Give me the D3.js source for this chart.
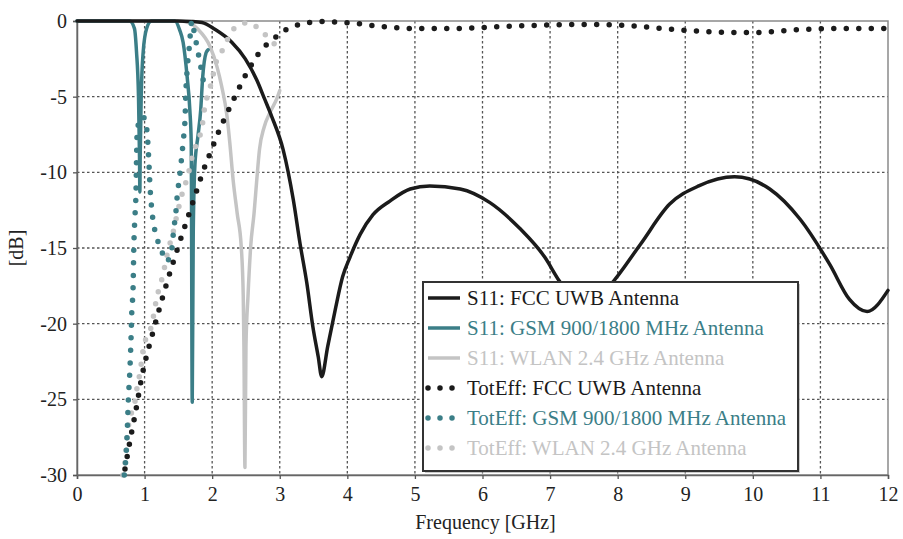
<!DOCTYPE html>
<html>
<head>
<meta charset="utf-8">
<script src="https://cdn.jsdelivr.net/npm/d3@7"></script>
<style>
  body { margin: 0; background: #fff; }
</style>
</head>
<body>
<div id="chart"></div>
<script>
// S11: FCC UWB Antenna (solid black)
const s11UwbF = [0, 1.0, 1.48, 1.7, 1.85, 2.04, 2.29, 2.49, 2.66, 2.78, 2.88, 3.05, 3.2, 3.3, 3.4, 3.49, 3.57, 3.62, 3.71, 3.82, 3.93, 4.04, 4.19, 4.38, 4.63, 4.93, 5.22, 5.67, 6.11, 6.55, 6.92, 7.14, 7.5, 7.9, 8.33, 8.77, 9.2, 9.73, 10.25, 10.7, 11.14, 11.43, 11.69, 12];
const s11UwbDb = [0, 0, 0, -0.03, -0.1, -0.55, -1.4, -2.5, -3.9, -5.2, -6.3, -8.5, -11.8, -14.7, -17.3, -20.2, -22.2, -23.5, -21.5, -19.1, -16.9, -15.6, -14.1, -12.8, -11.9, -11.1, -10.9, -11.1, -12.0, -13.7, -15.6, -17.2, -19, -17.4, -14.8, -12.1, -10.9, -10.3, -11.1, -13.1, -16.1, -18.4, -19.2, -17.8];

// S11: GSM 900/1800 MHz Antenna (solid teal)
const s11GsmF = [0, 0.78, 0.85, 0.88, 0.91, 0.925, 0.93, 0.935, 0.95, 0.98, 1.03, 1.1, 1.45, 1.52, 1.57, 1.63, 1.67, 1.69, 1.705, 1.72, 1.745, 1.79, 1.83, 1.86, 1.91, 1.94];
const s11GsmDb = [0, 0, -0.5, -2, -5, -9, -11.3, -9, -5, -2, -0.5, 0, 0, -0.6, -1.4, -3.7, -5.9, -8, -25.2, -14, -9.5, -7.6, -5.9, -3.7, -2.1, -1.9];

// S11: WLAN 2.4 GHz Antenna (solid light grey)
const s11WlanF = [0, 1.5, 1.65, 1.79, 1.97, 2.07, 2.14, 2.22, 2.26, 2.31, 2.37, 2.43, 2.46, 2.47, 2.485, 2.5, 2.53, 2.57, 2.62, 2.66, 2.7, 2.77, 2.86, 2.96, 3.0];
const s11WlanDb = [0, 0, -0.1, -0.55, -1.7, -3.0, -4.3, -6.3, -8, -10.5, -12.7, -14.9, -18.2, -21.5, -29.5, -21.5, -18.2, -14.9, -12.7, -10.5, -8.5, -7.0, -6.0, -5.1, -4.6];

// TotEff: FCC UWB Antenna (dotted black)
const totUwbF = [0.71, 0.79, 0.86, 0.96, 1.14, 1.35, 1.52, 1.75, 1.86, 2.0, 2.07, 2.22, 2.38, 2.54, 2.75, 2.88, 3.03, 3.2, 3.34, 3.55, 3.74, 4.1, 4.48, 5.03, 5.59, 6.14, 6.7, 7.07, 7.6, 7.99, 8.55, 9.11, 9.66, 10.03, 10.58, 11.14, 11.88, 12];
const totUwbDb = [-29.6, -27.6, -26, -23.5, -20.3, -17, -14.6, -11.5, -10, -8.4, -7.6, -6.1, -4.6, -3.2, -1.8, -1.3, -0.75, -0.35, -0.2, -0.03, -0.05, -0.15, -0.35, -0.5, -0.5, -0.4, -0.3, -0.25, -0.23, -0.26, -0.45, -0.65, -0.76, -0.76, -0.6, -0.5, -0.5, -0.5];

// TotEff: GSM 900/1800 MHz Antenna (dotted teal)
const totGsmF = [0.70, 0.74, 0.76, 0.78, 0.80, 0.81, 0.83, 0.84, 0.86, 0.87, 0.89, 0.93, 0.97, 1.01, 1.04, 1.06, 1.08, 1.11, 1.15, 1.20, 1.26, 1.32, 1.38, 1.41, 1.43, 1.46, 1.48, 1.52, 1.57, 1.60, 1.61, 1.63, 1.66, 1.70, 1.74, 1.78, 1.83, 1.88];
const totGsmDb = [-30, -27.5, -25, -23.3, -20.9, -19.3, -17.6, -15.1, -12.7, -11.8, -7.4, -6.5, -6.3, -6.6, -7.5, -9, -10.9, -12.6, -13.8, -14.6, -15.3, -15.9, -15.5, -14.8, -13.8, -12.8, -11.7, -10.2, -8.0, -6.3, -4.8, -3.2, -1.8, 0, -0.9, -1.8, -3, -4.2];

// TotEff: WLAN 2.4 GHz Antenna (dotted light grey)
const totWlanF = [0.68, 0.71, 0.74, 0.80, 0.86, 0.89, 0.93, 0.98, 1.11, 1.18, 1.27, 1.35, 1.41, 1.48, 1.57, 1.63, 1.72, 1.78, 1.85, 1.89, 1.94, 2.0, 2.04, 2.12, 2.19, 2.26, 2.38, 2.54, 2.71, 2.83, 2.96];
const totWlanDb = [-30, -29.2, -27.5, -26, -25.1, -24.2, -23.3, -21.7, -20, -18.3, -16.8, -15.1, -14.2, -12.8, -11.2, -10.4, -8.7, -8, -7, -5.7, -4.8, -3.9, -3.0, -2.2, -1.6, -0.9, -0.3, -0.1, -0.6, -1.1, -1.7];

const xTicks = [0, 1, 2, 3, 4, 5, 6, 7, 8, 9, 10, 11, 12];
const yTicks = [0, -5, -10, -15, -20, -25, -30];

const legendLabels = [
  "S11: FCC UWB Antenna",
  "S11: GSM 900/1800 MHz Antenna",
  "S11: WLAN 2.4 GHz Antenna",
  "TotEff: FCC UWB Antenna",
  "TotEff: GSM 900/1800 MHz Antenna",
  "TotEff: WLAN 2.4 GHz Antenna"
];

const black = "#1b1b1b", teal = "#3b7e87", grey = "#c4c4c4";
const serif = '"Liberation Serif", "Times New Roman", serif';

const zip = (f, v) => f.map((d, i) => ({f: d, v: v[i]}));

// drawing order: light curves underneath, black on top
const series = [
  {data: zip(s11WlanF, s11WlanDb), color: grey, dotted: false},
  {data: zip(s11GsmF, s11GsmDb), color: teal, dotted: false},
  {data: zip(s11UwbF, s11UwbDb), color: black, dotted: false},
  {data: zip(totWlanF, totWlanDb), color: grey, dotted: true},
  {data: zip(totGsmF, totGsmDb), color: teal, dotted: true},
  {data: zip(totUwbF, totUwbDb), color: black, dotted: true}
];

const W = 903, H = 539;
const margin = {top: 21, left: 77};
const width = 888 - margin.left, height = 475 - margin.top;

const svg = d3.select("#chart").append("svg")
  .attr("width", W).attr("height", H);
const g = svg.append("g").attr("transform", `translate(${margin.left},${margin.top})`);

const x = d3.scaleLinear().domain([0, 12]).range([0, width]);
const y = d3.scaleLinear().domain([-30, 0]).range([height, 0]);

// grid
g.append("g").selectAll("line").data(xTicks.filter(t => t > 0 && t < 12)).join("line")
  .attr("x1", d => x(d)).attr("x2", d => x(d)).attr("y1", 0).attr("y2", height)
  .attr("stroke", "#555").attr("stroke-width", 1.3).attr("stroke-dasharray", "2.5,2.5");
g.append("g").selectAll("line").data(yTicks.filter(t => t < 0 && t > -30)).join("line")
  .attr("y1", d => y(d)).attr("y2", d => y(d)).attr("x1", 0).attr("x2", width)
  .attr("stroke", "#555").attr("stroke-width", 1.3).attr("stroke-dasharray", "2.5,2.5");

// frame
g.append("rect").attr("width", width).attr("height", height)
  .attr("fill", "none").attr("stroke", "#8a8a8a").attr("stroke-width", 1.5);

// axes
const xAxis = g.append("g").attr("transform", `translate(0,${height})`)
  .call(d3.axisBottom(x).tickValues(xTicks).tickFormat(d => String(d)).tickSize(4).tickPadding(8));
const yAxis = g.append("g")
  .call(d3.axisLeft(y).tickValues(yTicks).tickFormat(d => String(d)).tickSize(4).tickPadding(6));
[xAxis, yAxis].forEach(a => {
  a.attr("font-family", serif).attr("font-size", 20);
  a.select(".domain").attr("stroke", "#666").attr("stroke-width", 1.5);
  a.selectAll(".tick line").attr("stroke", "#555").attr("stroke-width", 1.3);
  a.selectAll("text").attr("fill", "#222");
});

svg.append("text").attr("x", margin.left + width / 2 + 3).attr("y", 529)
  .attr("text-anchor", "middle").attr("font-size", 20).attr("fill", "#222")
  .attr("font-family", serif)
  .text("Frequency [GHz]");
svg.append("text").attr("transform", `translate(23,${margin.top + height / 2}) rotate(-90)`)
  .attr("text-anchor", "middle").attr("font-size", 20).attr("fill", "#222")
  .attr("font-family", serif)
  .text("[dB]");

// curves
const line = d3.line().x(d => x(d.f)).y(d => y(d.v)).curve(d3.curveMonotoneX);

g.append("g").selectAll("path").data(series).join("path")
  .attr("d", d => line(d.data))
  .attr("fill", "none")
  .attr("stroke", d => d.color)
  .attr("stroke-width", d => d.dotted ? 5.5 : 3.5)
  .attr("stroke-linecap", "round")
  .attr("stroke-linejoin", "round")
  .attr("stroke-dasharray", d => d.dotted ? "0 12.5" : null);

// legend
const legend = svg.append("g").attr("transform", "translate(423,282)");
legend.append("rect").attr("x", 2).attr("y", 2).attr("width", 375).attr("height", 189)
  .attr("fill", "#999").attr("opacity", 0.5);
legend.append("rect").attr("width", 375).attr("height", 189)
  .attr("fill", "#fff").attr("stroke", "#333").attr("stroke-width", 2);

const legendItems = [
  {label: legendLabels[0], color: black, dotted: false},
  {label: legendLabels[1], color: teal, dotted: false},
  {label: legendLabels[2], color: grey, dotted: false},
  {label: legendLabels[3], color: black, dotted: true},
  {label: legendLabels[4], color: teal, dotted: true},
  {label: legendLabels[5], color: grey, dotted: true}
];
const li = legend.selectAll("g.item").data(legendItems).join("g")
  .attr("class", "item")
  .attr("transform", (d, i) => `translate(0,${16 + i * 30})`);
li.append("line").attr("x1", 5).attr("x2", 37).attr("y1", 0).attr("y2", 0)
  .attr("stroke", d => d.color)
  .attr("stroke-width", d => d.dotted ? 5.5 : 3.5)
  .attr("stroke-linecap", d => d.dotted ? "round" : "butt")
  .attr("stroke-dasharray", d => d.dotted ? "0 12" : null);
li.append("text").attr("x", 44).attr("y", 7)
  .attr("font-size", 21).attr("fill", d => d.color)
  .attr("font-family", serif)
  .text(d => d.label);
</script>
</body>
</html>
